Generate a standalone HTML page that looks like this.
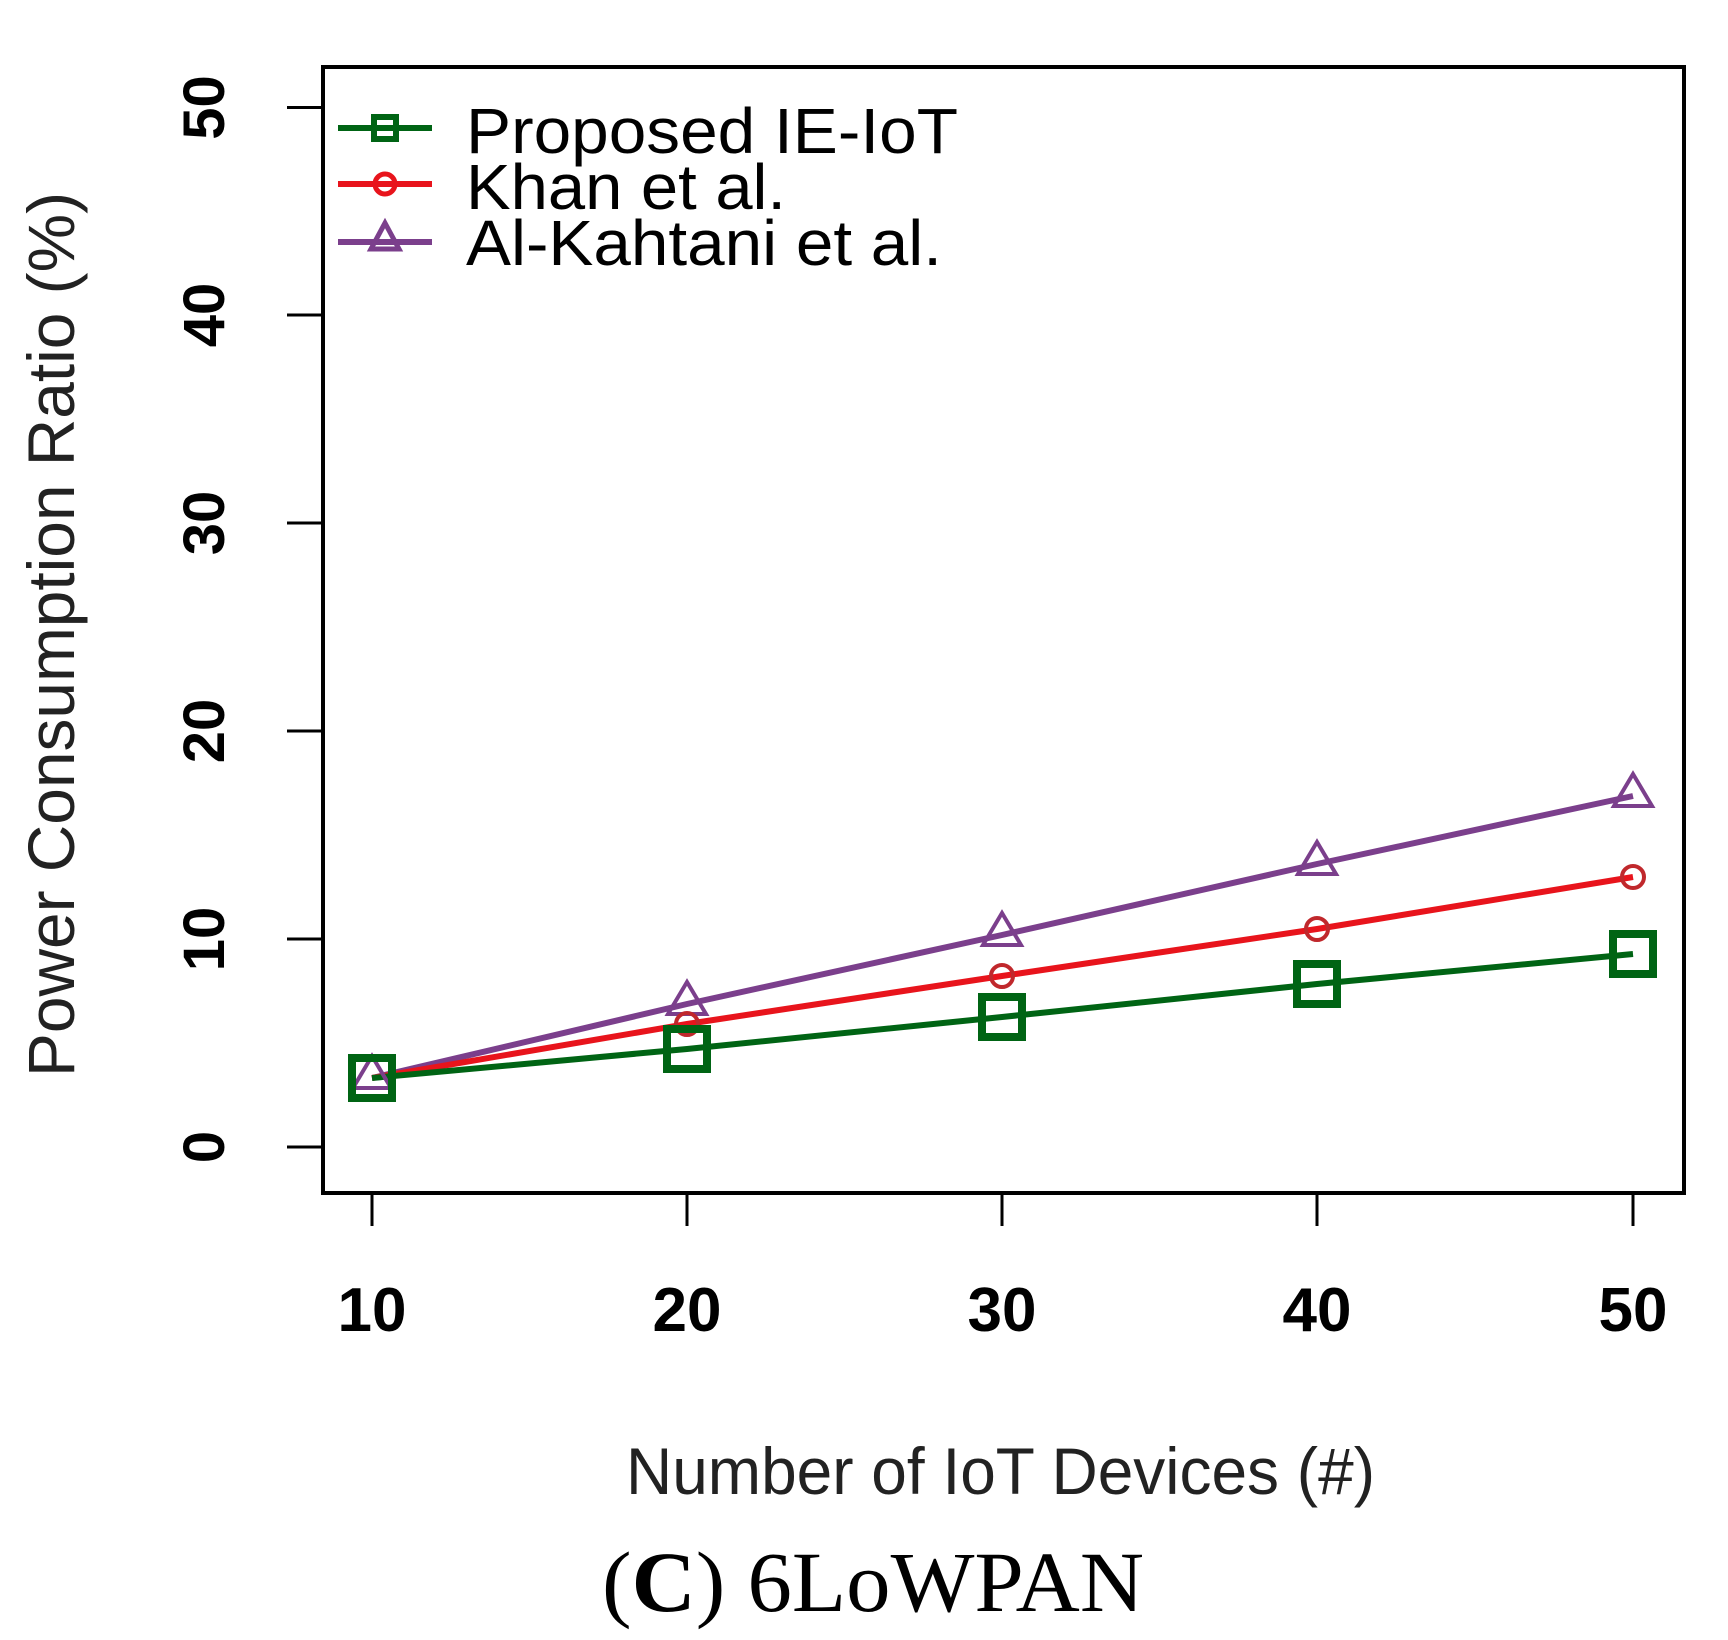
<!DOCTYPE html>
<html><head><meta charset="utf-8"><style>
html,body{margin:0;padding:0;background:#fff;}
svg{display:block;}
</style></head><body>
<svg width="1728" height="1640" viewBox="0 0 1728 1640" xmlns="http://www.w3.org/2000/svg">
<rect width="1728" height="1640" fill="#fff"/>
<rect x="323" y="67" width="1361" height="1126" fill="none" stroke="#000" stroke-width="4"/>
<g stroke="#000" stroke-width="3">
<line x1="287" y1="1147" x2="323" y2="1147"/>
<line x1="287" y1="939" x2="323" y2="939"/>
<line x1="287" y1="731" x2="323" y2="731"/>
<line x1="287" y1="523" x2="323" y2="523"/>
<line x1="287" y1="315" x2="323" y2="315"/>
<line x1="287" y1="107.5" x2="323" y2="107.5"/>
<line x1="372" y1="1193" x2="372" y2="1226"/>
<line x1="687" y1="1193" x2="687" y2="1226"/>
<line x1="1002" y1="1193" x2="1002" y2="1226"/>
<line x1="1317" y1="1193" x2="1317" y2="1226"/>
<line x1="1633" y1="1193" x2="1633" y2="1226"/>
</g>
<g font-family="Liberation Sans, sans-serif" font-weight="bold" font-size="58" fill="#000" text-anchor="middle">
<text transform="translate(224,1147) rotate(-90)">0</text>
<text transform="translate(224,939) rotate(-90)">10</text>
<text transform="translate(224,731) rotate(-90)">20</text>
<text transform="translate(224,523) rotate(-90)">30</text>
<text transform="translate(224,315) rotate(-90)">40</text>
<text transform="translate(224,107.5) rotate(-90)">50</text>
</g>
<g font-family="Liberation Sans, sans-serif" font-weight="bold" font-size="62" fill="#000" text-anchor="middle">
<text x="372" y="1331">10</text>
<text x="687" y="1331">20</text>
<text x="1002" y="1331">30</text>
<text x="1317" y="1331">40</text>
<text x="1633" y="1331">50</text>
</g>
<text x="626" y="1494" font-family="Liberation Sans, sans-serif" font-size="66" fill="#222" textLength="749" lengthAdjust="spacingAndGlyphs">Number of IoT Devices (#)</text>
<text transform="translate(74,1077) rotate(-90)" font-family="Liberation Sans, sans-serif" font-size="66" fill="#222" textLength="885" lengthAdjust="spacingAndGlyphs">Power Consumption Ratio (%)</text>
<text x="602" y="1611" font-family="Liberation Serif, serif" font-size="86" fill="#000" textLength="542" lengthAdjust="spacingAndGlyphs">(<tspan font-weight="bold">C</tspan>) 6LoWPAN</text>
<polyline fill="none" stroke="#7b3f8c" stroke-width="6" points="372,1078 687,1004 1002,935 1317,864 1633,796"/>
<polyline fill="none" stroke="#e8141c" stroke-width="6" points="372,1078 687,1024 1002,976 1317,929 1633,877"/>
<polyline fill="none" stroke="#006414" stroke-width="6" points="372,1078 687,1049 1002,1017 1317,984 1633,954"/>
<g fill="none" stroke="#7b3f8c" stroke-width="4">
<polygon points="372,1056 391,1088 353,1088"/>
<polygon points="687,982 706,1014 668,1014"/>
<polygon points="1002,913 1021,945 983,945"/>
<polygon points="1317,842 1336,874 1298,874"/>
<polygon points="1633,774 1652,806 1614,806"/>
</g>
<g fill="none" stroke="#c0282c" stroke-width="4">
<circle cx="687" cy="1024" r="11"/>
<circle cx="1002" cy="976" r="11"/>
<circle cx="1317" cy="929" r="11"/>
<circle cx="1633" cy="877" r="11"/>
</g>
<g fill="none" stroke="#006414" stroke-width="8">
<rect x="352" y="1058" width="40" height="40"/>
<rect x="667" y="1029" width="40" height="40"/>
<rect x="982" y="997" width="40" height="40"/>
<rect x="1297" y="964" width="40" height="40"/>
<rect x="1613" y="934" width="40" height="40"/>
</g>
<line x1="338" y1="128" x2="432" y2="128" stroke="#006414" stroke-width="6"/>
<rect x="374" y="117" width="22" height="22" fill="none" stroke="#006414" stroke-width="6"/>
<line x1="338" y1="184" x2="432" y2="184" stroke="#e8141c" stroke-width="6"/>
<circle cx="385" cy="184" r="10" fill="none" stroke="#e8141c" stroke-width="5"/>
<line x1="338" y1="242" x2="432" y2="242" stroke="#7b3f8c" stroke-width="6"/>
<polygon points="385,223 399,249 371,249" fill="none" stroke="#7b3f8c" stroke-width="5"/>
<g font-family="Liberation Sans, sans-serif" font-size="64" fill="#000">
<text x="466" y="153" textLength="492" lengthAdjust="spacingAndGlyphs">Proposed IE-IoT</text>
<text x="466" y="209" textLength="320" lengthAdjust="spacingAndGlyphs">Khan et al.</text>
<text x="466" y="265" textLength="476" lengthAdjust="spacingAndGlyphs">Al-Kahtani et al.</text>
</g>
</svg>
</body></html>
